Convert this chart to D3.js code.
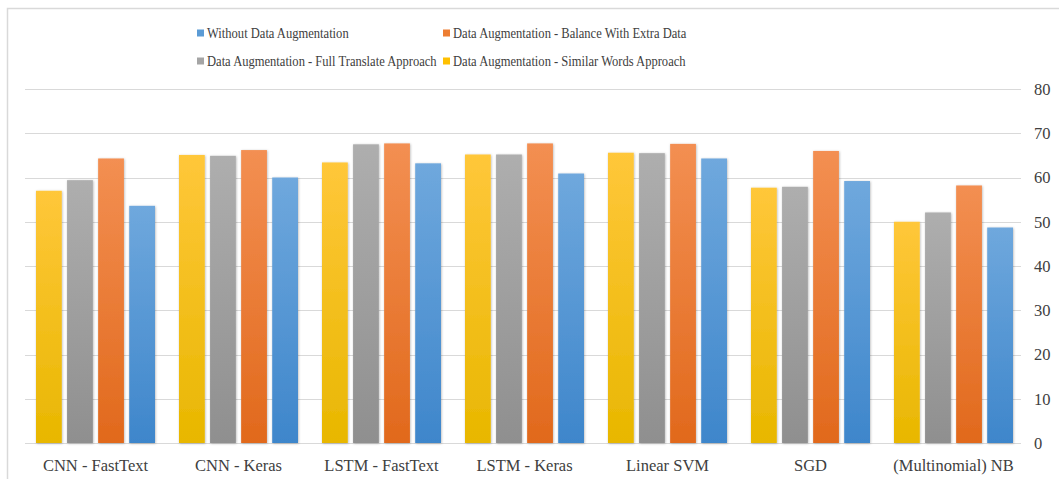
<!DOCTYPE html>
<html>
<head>
<meta charset="utf-8">
<script src="https://cdn.jsdelivr.net/npm/d3@7"></script>
<style>
  html, body { margin: 0; padding: 0; background: #fff; }
  svg { display: block; }
  svg text { font-family: "Liberation Serif", "Times New Roman", Times, "DejaVu Serif", serif !important; fill: #404040; }
</style>
</head>
<body>
<svg id="chart" width="1059" height="479"></svg>
<script>
// Accuracy (%) per model, one array per training setup
const categories = ["CNN - FastText", "CNN - Keras", "LSTM - FastText", "LSTM - Keras", "Linear SVM", "SGD", "(Multinomial) NB"];
const withoutAug   = [53.6, 60.0, 63.2, 60.9, 64.3, 59.2, 48.7];
const balanceExtra = [64.3, 66.2, 67.7, 67.7, 67.6, 66.0, 58.2];
const fullTranslate = [59.4, 64.9, 67.5, 65.2, 65.5, 57.9, 52.1];
const similarWords = [57.0, 65.1, 63.4, 65.2, 65.6, 57.7, 50.0];
const seriesNames = [
  "Without Data Augmentation",
  "Data Augmentation - Balance With Extra Data",
  "Data Augmentation - Full Translate Approach",
  "Data Augmentation - Similar Words Approach"
];
const yTicks = [0, 10, 20, 30, 40, 50, 60, 70, 80];

const serif = "'Liberation Serif', 'Times New Roman', Times, 'DejaVu Serif', serif";

const series = [
  { key: "without", name: seriesNames[0], values: withoutAug,    base: "#5B9BD5", light: "#6FA8DD", dark: "#3E86CB" },
  { key: "balance", name: seriesNames[1], values: balanceExtra,  base: "#ED7D31", light: "#F38F52", dark: "#E1691C" },
  { key: "full",    name: seriesNames[2], values: fullTranslate, base: "#A5A5A5", light: "#AEAEAE", dark: "#8F8F8F" },
  { key: "similar", name: seriesNames[3], values: similarWords,  base: "#FFC000", light: "#FFC73A", dark: "#E8B700" }
];
// bars are drawn right-to-left relative to the legend order
const barOrder = ["similar", "full", "balance", "without"];

const svg = d3.select("#chart");
const defs = svg.append("defs");

series.forEach(s => {
  const g = defs.append("linearGradient")
    .attr("id", "grad-" + s.key)
    .attr("x1", 0).attr("y1", 0).attr("x2", 0).attr("y2", 1);
  g.append("stop").attr("offset", "0%").attr("stop-color", s.light);
  g.append("stop").attr("offset", "100%").attr("stop-color", s.dark);
});

const shadow = defs.append("filter").attr("id", "barShadow")
  .attr("x", "-20%").attr("y", "-5%").attr("width", "140%").attr("height", "110%");
shadow.append("feDropShadow")
  .attr("dx", 0.6).attr("dy", 0.6).attr("stdDeviation", 1.1)
  .attr("flood-color", "#000").attr("flood-opacity", 0.28);

// chart frame
svg.append("rect")
  .attr("x", 7.5).attr("y", 8.5)
  .attr("width", 1100).attr("height", 520)
  .attr("fill", "none").attr("stroke", "#d9d9d9").attr("stroke-width", 1.5);

// scales
const x0 = d3.scaleBand().domain(categories).range([24, 1025]).padding(0);
const x1 = d3.scaleBand().domain(barOrder).range([12, 131]).paddingInner(0.17).paddingOuter(0);
const y = d3.scaleLinear().domain([0, 80]).range([443, 89]);

// gridlines
svg.append("g").selectAll("line").data(yTicks).join("line")
  .attr("x1", 25).attr("x2", 1021)
  .attr("y1", d => Math.round(y(d)) + 0.5).attr("y2", d => Math.round(y(d)) + 0.5)
  .attr("stroke", "#d9d9d9").attr("stroke-width", 1);

// right-side value axis
const yAxis = svg.append("g")
  .attr("transform", "translate(1021,0)")
  .call(d3.axisRight(y).tickValues(yTicks).tickSize(0).tickPadding(13))
  .attr("font-family", serif).attr("font-size", 16.5);
yAxis.select(".domain").remove();
yAxis.selectAll("text").attr("fill", "#404040");

// bars
const byKey = Object.fromEntries(series.map(s => [s.key, s]));
const groups = svg.append("g").selectAll("g").data(categories).join("g")
  .attr("transform", d => `translate(${x0(d)},0)`);
groups.selectAll("rect")
  .data((c, i) => barOrder.map(k => ({ key: k, value: byKey[k].values[i] })))
  .join("rect")
  .attr("x", d => x1(d.key))
  .attr("width", x1.bandwidth())
  .attr("y", d => y(d.value))
  .attr("height", d => y(0) - y(d.value))
  .attr("fill", d => `url(#grad-${d.key})`)
  .attr("filter", "url(#barShadow)");

// category axis
const xAxis = svg.append("g")
  .attr("transform", `translate(0,${y(0)})`)
  .call(d3.axisBottom(x0).tickSize(0).tickPadding(16))
  .attr("font-family", serif).attr("font-size", 16.5);
xAxis.select(".domain").remove();
xAxis.selectAll("text").attr("fill", "#404040");

// legend (two columns, two rows)
const legendPos = [
  { col: 197, row: 33 },
  { col: 443, row: 33 },
  { col: 197, row: 61 },
  { col: 443, row: 61 }
];
const legend = svg.append("g").attr("font-family", serif).attr("font-size", 15.5)
  .selectAll("g").data(series).join("g")
  .attr("transform", (d, i) => `translate(${legendPos[i].col},${legendPos[i].row})`);
legend.append("rect")
  .attr("x", 0).attr("y", -3.5).attr("width", 7).attr("height", 7)
  .attr("fill", d => d.base);
legend.append("text")
  .attr("transform", "translate(10,0) scale(0.81,1)")
  .attr("dy", "0.35em")
  .text(d => d.name);
</script>
</body>
</html>
